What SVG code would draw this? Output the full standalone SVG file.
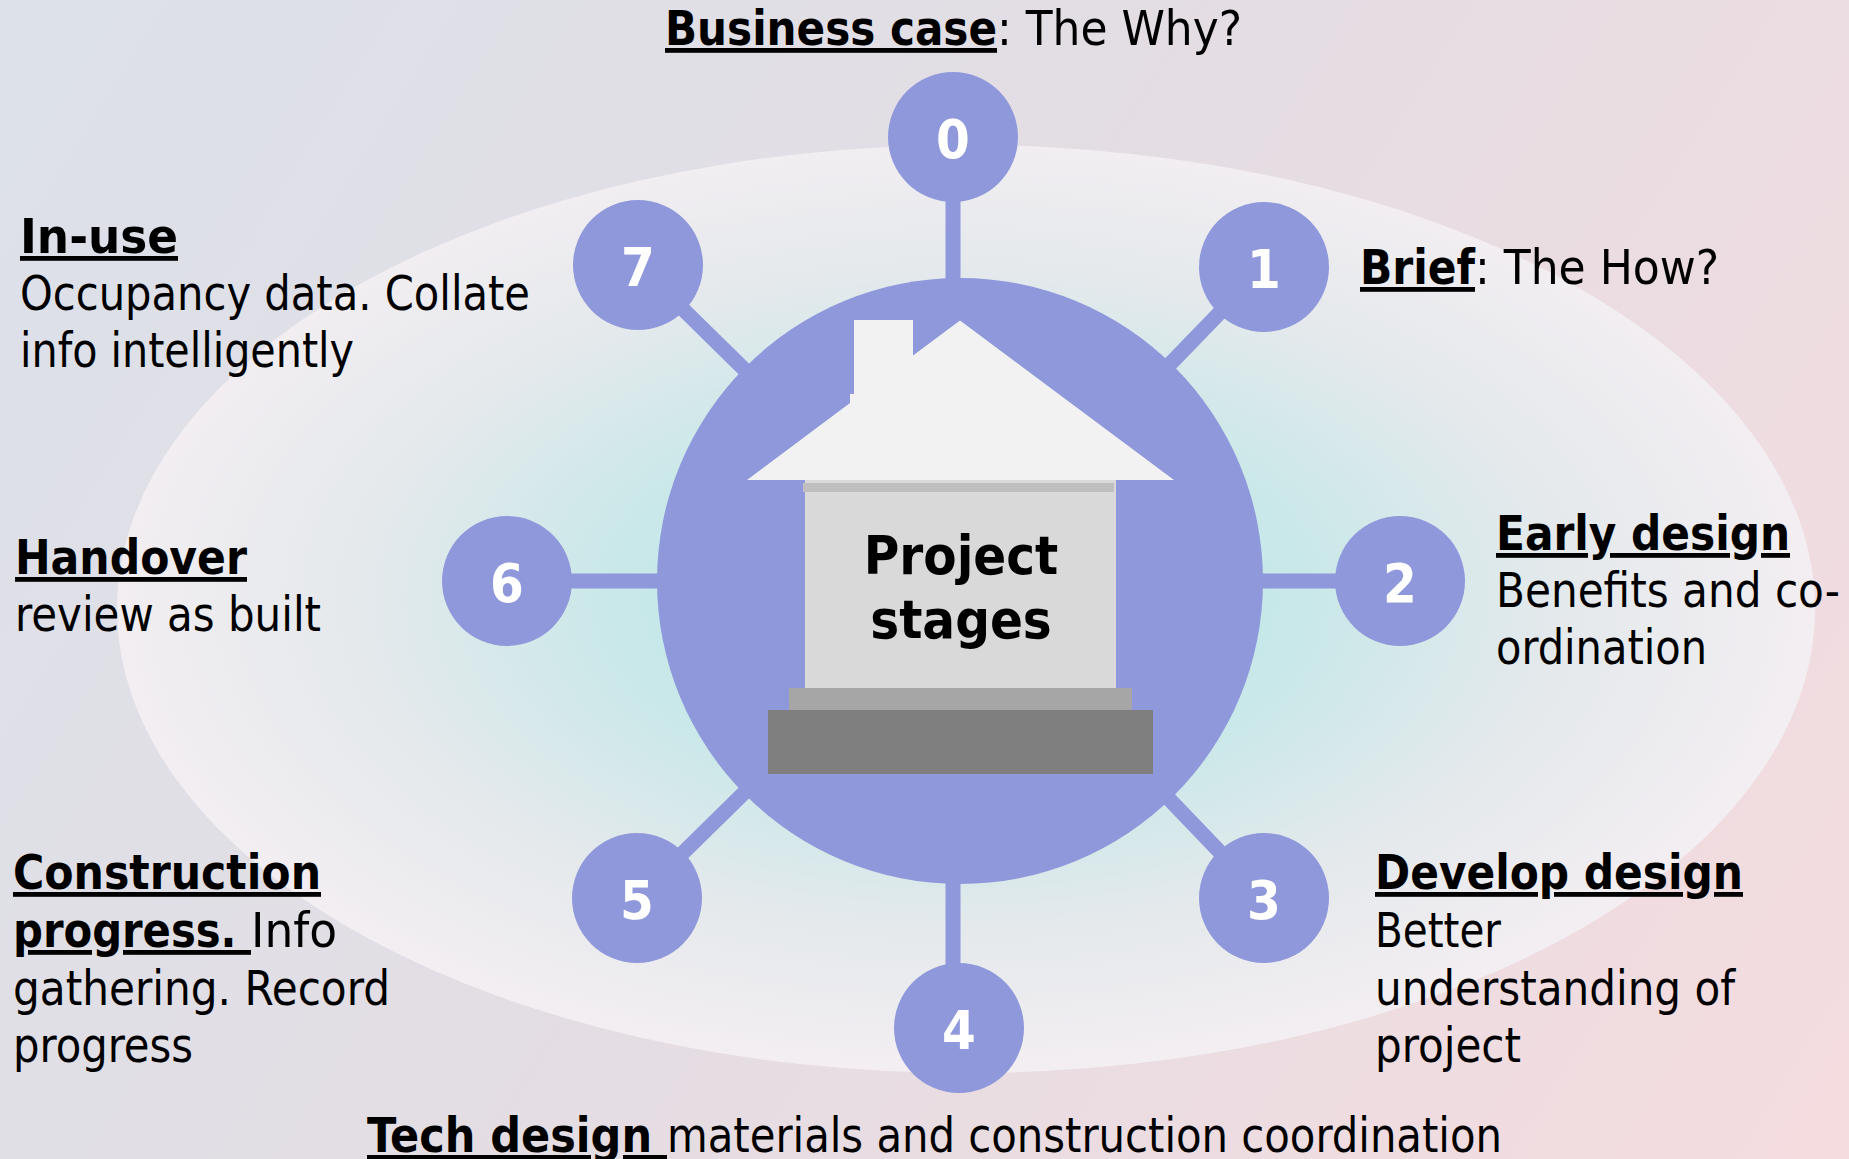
<svg xmlns="http://www.w3.org/2000/svg" width="1849" height="1159" viewBox="0 0 1849 1159">
<style>
text{font-family:"DejaVu Sans Condensed","DejaVu Sans",Tahoma,sans-serif;font-size:48px;fill:#000}
.b{font-weight:700}
.u{font-weight:700;text-decoration:underline;text-decoration-thickness:3px;text-underline-offset:6px}
.lab{font-size:54px;font-weight:700;fill:#fff;text-anchor:middle}
.ttl{font-size:54px;font-weight:700;text-anchor:middle}
.c{fill:#8e98db}
.l{stroke:#8e98db;stroke-width:15;fill:none}
</style>
<defs>
<linearGradient id="bg" gradientUnits="userSpaceOnUse" x1="0" y1="0" x2="1849" y2="1159">
<stop offset="0" stop-color="#dce1ea"/><stop offset=".5" stop-color="#e4dde3"/><stop offset="1" stop-color="#f5dcdf"/>
</linearGradient>
<radialGradient id="el" gradientUnits="userSpaceOnUse" cx="0" cy="0" r="1" gradientTransform="translate(960 600) scale(856 470)">
<stop offset="0" stop-color="#b5e6e6"/><stop offset=".4" stop-color="#c9e8e9"/><stop offset=".7" stop-color="#e4e9ec"/><stop offset="1" stop-color="#f3eef2"/>
</radialGradient>
</defs>
<rect width="1849" height="1159" fill="url(#bg)"/>
<ellipse cx="966" cy="609" rx="849" ry="464" fill="url(#el)"/>
<g id="connectors">
<path class="l" d="M953 137V581M1264 267L960 581M1400 581H960M1264 898L960 581M953 1028V581M637 898L960 581M507 581H960M638 265L960 581"/>
</g>
<g id="hub"><circle class="c" cx="960" cy="581" r="303"/></g>
<g id="house">
<path fill="#f2f2f2" d="M854 320H913V355.5L960 320.5L1174 480H747L850 403V394H854Z"/>
<rect x="805" y="480" width="311" height="208" fill="#d9d9d9"/>
<rect x="803" y="483" width="311" height="9" fill="#bfbfbf"/>
<rect x="789" y="688" width="343" height="22" fill="#a6a6a6"/>
<rect x="768" y="710" width="385" height="64" fill="#7f7f7f"/>
<text class="ttl" x="961" y="574">Project</text>
<text class="ttl" x="961" y="638">stages</text>
</g>
<g id="stage0"><circle class="c" cx="953" cy="137" r="65"/><text class="lab" x="953" y="158">0</text>
<text y="45"><tspan class="u" x="665" textLength="332" lengthAdjust="spacingAndGlyphs">Business case</tspan><tspan x="997" textLength="245" lengthAdjust="spacingAndGlyphs">: The Why?</tspan></text></g>
<g id="stage1"><circle class="c" cx="1264" cy="267" r="65"/><text class="lab" x="1264" y="288">1</text>
<text y="284"><tspan class="u" x="1360" textLength="115" lengthAdjust="spacingAndGlyphs">Brief</tspan><tspan x="1475" textLength="244" lengthAdjust="spacingAndGlyphs">: The How?</tspan></text></g>
<g id="stage2"><circle class="c" cx="1400" cy="581" r="65"/><text class="lab" x="1400" y="602">2</text>
<text class="u" x="1496" y="550" textLength="294" lengthAdjust="spacingAndGlyphs">Early design</text>
<text x="1496" y="607" textLength="344" lengthAdjust="spacingAndGlyphs">Benefits and co-</text>
<text x="1496" y="664" textLength="211" lengthAdjust="spacingAndGlyphs">ordination</text></g>
<g id="stage3"><circle class="c" cx="1264" cy="898" r="65"/><text class="lab" x="1264" y="919">3</text>
<text class="u" x="1375" y="889" textLength="368" lengthAdjust="spacingAndGlyphs">Develop design</text>
<text x="1375" y="947" textLength="126" lengthAdjust="spacingAndGlyphs">Better</text>
<text x="1375" y="1005" textLength="360" lengthAdjust="spacingAndGlyphs">understanding of</text>
<text x="1375" y="1062" textLength="146" lengthAdjust="spacingAndGlyphs">project</text></g>
<g id="stage4"><circle class="c" cx="959" cy="1028" r="65"/><text class="lab" x="959" y="1049">4</text>
<text y="1152"><tspan class="u" x="367" textLength="300" lengthAdjust="spacingAndGlyphs" xml:space="preserve">Tech design </tspan><tspan x="667" textLength="835" lengthAdjust="spacingAndGlyphs">materials and construction coordination</tspan></text></g>
<g id="stage5"><circle class="c" cx="637" cy="898" r="65"/><text class="lab" x="637" y="919">5</text>
<text class="u" x="13" y="889" textLength="308" lengthAdjust="spacingAndGlyphs">Construction</text>
<text y="947"><tspan class="u" x="13" textLength="238" lengthAdjust="spacingAndGlyphs" xml:space="preserve">progress. </tspan><tspan x="251" textLength="86" lengthAdjust="spacingAndGlyphs">Info</tspan></text>
<text x="13" y="1005" textLength="377" lengthAdjust="spacingAndGlyphs">gathering. Record</text>
<text x="13" y="1062" textLength="180" lengthAdjust="spacingAndGlyphs">progress</text></g>
<g id="stage6"><circle class="c" cx="507" cy="581" r="65"/><text class="lab" x="507" y="602">6</text>
<text class="u" x="15" y="574" textLength="232" lengthAdjust="spacingAndGlyphs">Handover</text>
<text x="15" y="631" textLength="306" lengthAdjust="spacingAndGlyphs">review as built</text></g>
<g id="stage7"><circle class="c" cx="638" cy="265" r="65"/><text class="lab" x="638" y="286">7</text>
<text class="u" x="20" y="253" textLength="158" lengthAdjust="spacingAndGlyphs">In-use</text>
<text x="20" y="310" textLength="510" lengthAdjust="spacingAndGlyphs">Occupancy data. Collate</text>
<text x="20" y="367" textLength="334" lengthAdjust="spacingAndGlyphs">info intelligently</text></g>
</svg>
